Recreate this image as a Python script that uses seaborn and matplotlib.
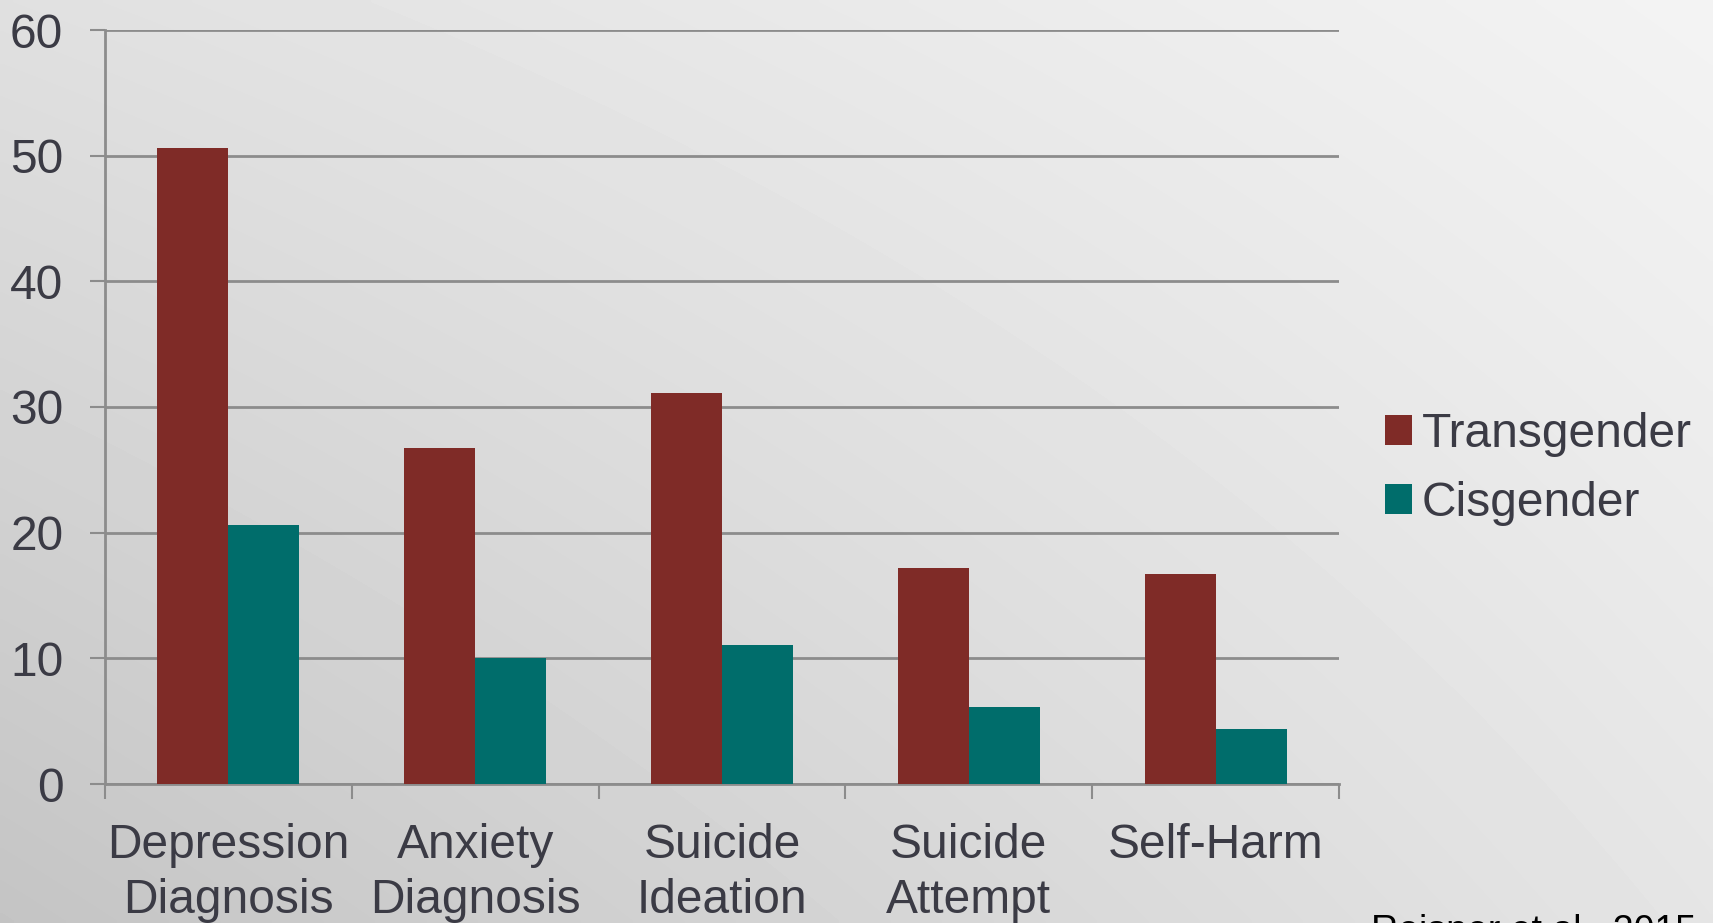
import numpy as np
import pandas as pd
import matplotlib
matplotlib.use("Agg")
import matplotlib.pyplot as plt
from matplotlib.patches import Patch
import seaborn as sns

# Data: percentage reporting each mental health outcome
categories = ["Depression\nDiagnosis", "Anxiety\nDiagnosis", "Suicide\nIdeation",
              "Suicide\nAttempt", "Self-Harm"]
transgender = [50.6, 26.7, 31.1, 17.2, 16.7]
cisgender = [20.6, 10.0, 11.1, 6.1, 4.4]
groups = ["Transgender", "Cisgender"]
y_ticks = [0, 10, 20, 30, 40, 50, 60]
source_note = "Reisner et al., 2015"

df = pd.DataFrame({
    "category": categories * 2,
    "group": [groups[0]] * len(categories) + [groups[1]] * len(categories),
    "value": transgender + cisgender,
})

RED = "#7f2b27"
TEAL = "#006d6b"
TEXT = "#3b3b45"
GRID = "#8c8c8c"
palette = {groups[0]: RED, groups[1]: TEAL}
FS = 34.5

sns.set_theme(style="white")
plt.rcParams["font.family"] = ["Liberation Sans", "DejaVu Sans"]

W, H = 1713, 923
fig = plt.figure(figsize=(W / 100, H / 100), dpi=100)

# Soft diagonal grey gradient behind everything
bg = fig.add_axes([0, 0, 1, 1], zorder=-10)
yy, xx = np.mgrid[0:1:200j, 0:1:360j]
tl, tr, bl, br = 224, 243, 196, 229
grad = (tl * (1 - xx) * (1 - yy) + tr * xx * (1 - yy)
        + bl * (1 - xx) * yy + br * xx * yy) / 255.0
bg.imshow(grad, cmap="gray", vmin=0, vmax=1, aspect="auto",
          extent=[0, 1, 1, 0], interpolation="bilinear")
bg.set_axis_off()

ax = fig.add_axes([105 / W, 1 - 784 / H, (1339 - 105) / W, (784 - 30) / H])
ax.patch.set_visible(False)

sns.barplot(data=df, x="category", y="value", hue="group", palette=palette,
            hue_order=groups, order=categories, width=0.575, gap=0,
            saturation=1, linewidth=0, legend=False, ax=ax, zorder=3)

ax.set_xlim(-0.5, len(categories) - 0.5)
ax.set_ylim(0, 60)
ax.set_yticks(y_ticks)
ax.set_xlabel("")
ax.set_ylabel("")

# Horizontal gridlines and axes
ax.yaxis.grid(True, color=GRID, linewidth=2, zorder=0)
ax.set_axisbelow(True)
for side in ["top", "right"]:
    ax.spines[side].set_visible(False)
for side in ["left", "bottom"]:
    ax.spines[side].set_color(GRID)
    ax.spines[side].set_linewidth(2)

ax.tick_params(axis="y", which="major", length=11, width=1.5, color=GRID,
               pad=19, labelsize=FS, labelcolor=TEXT, left=True)
ax.tick_params(axis="x", which="major", length=0, pad=28, labelsize=FS,
               labelcolor=TEXT)
ax.set_xticks(np.arange(-0.5, len(categories), 1.0), minor=True)
ax.tick_params(axis="x", which="minor", length=11, width=1.5, color=GRID,
               bottom=True)
for lbl in ax.get_xticklabels():
    lbl.set_linespacing(1.28)

handles = [Patch(facecolor=palette[g], edgecolor="none") for g in groups]
fig.legend(handles, groups, loc="upper left",
           bbox_to_anchor=(1385 / W, 1 - 412 / H), frameon=False,
           fontsize=FS, labelcolor=TEXT, handlelength=0.57, handleheight=0.57,
           handletextpad=0.2, labelspacing=0.5, borderaxespad=0,
           borderpad=0)

fig.text(1371 / W, 1 - 914 / H, source_note, fontsize=27, color="black",
         va="top", ha="left")

fig.savefig("out.png", dpi=100)
